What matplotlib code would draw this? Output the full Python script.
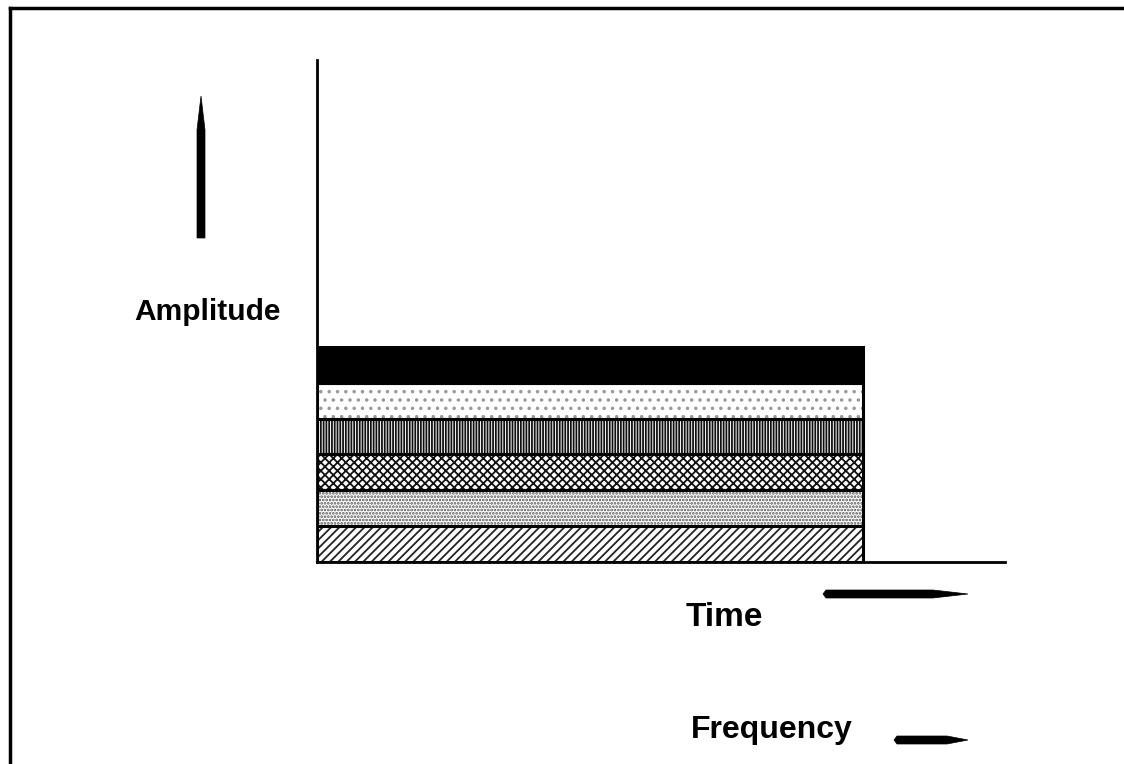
import matplotlib
matplotlib.use("Agg")
import matplotlib.pyplot as plt
from matplotlib.patches import Polygon
from matplotlib.lines import Line2D

# ---- data ----
layer_names = ["Layer 1", "Layer 2", "Layer 3", "Layer 4", "Layer 5", "Layer 6"]  # bottom -> top
layer_heights = [1, 1, 1, 1, 1, 1]
duration = 10.0
x_max = 12.6
y_max = 14.0
axis_labels = {"y": "Amplitude", "x": "Time", "f": "Frequency"}

# ---- styles (bottom -> top) ----
hatches = ["////", ".....", "xxxx", "||||||", "..", None]
hatch_colors = ["#222222", "#555555", "#111111", "#111111", "#999999", "black"]
faces = ["white", "white", "white", "white", "white", "black"]

W, H, DPI = 1124, 764, 100
plt.rcParams["hatch.linewidth"] = 1.3
fig = plt.figure(figsize=(W / DPI, H / DPI), dpi=DPI)
fig.patch.set_facecolor("white")

ax = fig.add_axes([317 / W, (H - 562) / H, 688 / W, 502 / H])
ax.set_xlim(0, x_max)
ax.set_ylim(0, y_max)
for s in ["top", "right"]:
    ax.spines[s].set_visible(False)
for s in ["left", "bottom"]:
    ax.spines[s].set_linewidth(2)
ax.set_xticks([])
ax.set_yticks([])

bottom = 0
for h, hatch, hc, fc in zip(layer_heights, hatches, hatch_colors, faces):
    ax.bar(0, h, width=duration, bottom=bottom, align="edge",
           color=fc, edgecolor=hc, linewidth=0, hatch=hatch, zorder=2)
    ax.bar(0, h, width=duration, bottom=bottom, align="edge",
           fill=False, edgecolor="black", linewidth=2.2, zorder=3)
    bottom += h

font = dict(family=["Liberation Sans", "DejaVu Sans"], weight="bold", color="black")

def px(x, y):
    return (x / W, 1 - y / H)

fig.text(*px(134, 312), axis_labels["y"], fontsize=21.5, ha="left", va="center", **font)
fig.text(*px(686, 617), axis_labels["x"], fontsize=24, ha="left", va="center", **font)
fig.text(*px(691, 730), axis_labels["f"], fontsize=23, ha="left", va="center", **font)

# frame lines
fig.add_artist(Line2D([10 / W, 1.0], [1 - 8 / H, 1 - 8 / H], transform=fig.transFigure,
                      color="black", lw=2.5))
fig.add_artist(Line2D([10 / W, 10 / W], [0, 1 - 8 / H], transform=fig.transFigure,
                      color="black", lw=2.5))

# arrows (tapered shapes)
def poly(pts):
    fig.add_artist(Polygon([px(x, y) for x, y in pts], closed=True,
                           transform=fig.transFigure, color="black", lw=0.5))

# vertical amplitude arrow
poly([(197, 238), (205, 238), (205, 130), (201, 96), (197, 130)])
# time arrow
poly([(826, 590), (933, 590), (968, 594), (933, 598), (826, 598), (823, 594)])
# frequency arrow
poly([(897, 736), (947, 736), (968, 740), (947, 744), (897, 744), (894, 740)])

fig.savefig("out.png", dpi=DPI, facecolor="white")
